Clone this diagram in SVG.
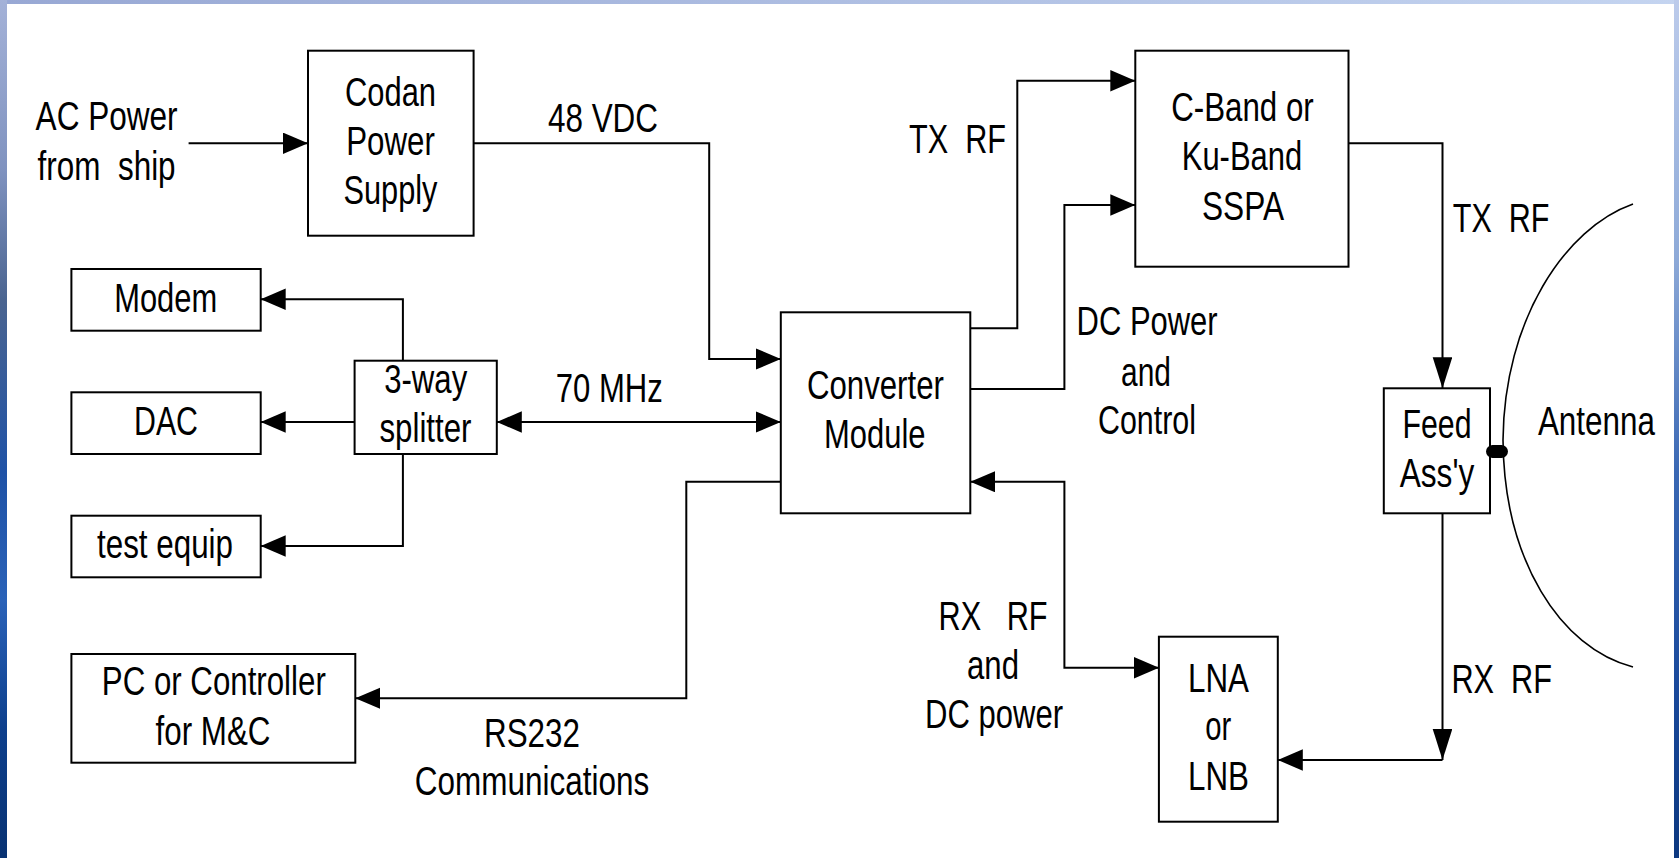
<svg xmlns="http://www.w3.org/2000/svg" width="1679" height="858" viewBox="0 0 1679 858">
<style>
.box{fill:#fff;stroke:#000;stroke-width:2}
.ln{fill:none;stroke:#000;stroke-width:2}
.t{font-family:"Liberation Sans Narrow","Liberation Sans",Arial,sans-serif;font-size:41px;fill:#000;white-space:pre}
.c{text-anchor:middle}
</style>
<defs>
<linearGradient id="lg" x1="0" y1="0" x2="0" y2="1">
<stop offset="0" stop-color="#a4b2d8"/>
<stop offset="0.2" stop-color="#7f92bf"/>
<stop offset="0.35" stop-color="#4a6490"/>
<stop offset="0.55" stop-color="#1f52a6"/>
<stop offset="0.7" stop-color="#2a62b8"/>
<stop offset="0.85" stop-color="#0d3f8c"/>
<stop offset="1" stop-color="#083272"/>
</linearGradient>
<linearGradient id="rg" x1="0" y1="0" x2="0" y2="1">
<stop offset="0" stop-color="#bccbeb"/>
<stop offset="0.3" stop-color="#8eaad8"/>
<stop offset="0.55" stop-color="#3a68b4"/>
<stop offset="0.8" stop-color="#1a4a9c"/>
<stop offset="1" stop-color="#0c3880"/>
</linearGradient>
<linearGradient id="tg" x1="0" y1="0" x2="1" y2="0">
<stop offset="0" stop-color="#98a8d4"/>
<stop offset="1" stop-color="#c4d4f0"/>
</linearGradient>
<marker id="ah" markerUnits="userSpaceOnUse" markerWidth="26" markerHeight="22" refX="25" refY="10.7" orient="auto-start-reverse">
<path d="M0,0 L25,10.7 L0,21.4 z" fill="#000"/>
</marker>
<marker id="av" markerUnits="userSpaceOnUse" markerWidth="32" markerHeight="20" refX="31" refY="9.8" orient="auto">
<path d="M0,0 L31,9.8 L0,19.6 z" fill="#000"/>
</marker>
</defs>
<rect x="0" y="0" width="1679" height="858" fill="#fff"/>
<rect x="0" y="0" width="1679" height="4" fill="url(#tg)"/>
<rect x="0" y="0" width="7" height="858" fill="url(#lg)"/>
<rect x="1674" y="0" width="5" height="858" fill="url(#rg)"/>

<g id="connectors">
<path class="ln" d="M188.6,143.3 H308" marker-end="url(#ah)"/>
<path class="ln" d="M473.6,143.3 H709.2 V359 H780.8" marker-end="url(#ah)"/>
<path class="ln" d="M496.8,422 H780.8" marker-start="url(#ah)" marker-end="url(#ah)"/>
<path class="ln" d="M402.9,360.7 V299.3 H260.7" marker-end="url(#ah)"/>
<path class="ln" d="M354.6,422 H260.7" marker-end="url(#ah)"/>
<path class="ln" d="M402.9,454 V546 H260.7" marker-end="url(#ah)"/>
<path class="ln" d="M780.8,481.7 H686.3 V698.3 H355.3" marker-end="url(#ah)"/>
<path class="ln" d="M970.3,328.3 H1017.3 V80.7 H1135.3" marker-end="url(#ah)"/>
<path class="ln" d="M970.3,389 H1064.4 V205 H1135.3" marker-end="url(#ah)"/>
<path class="ln" d="M970.3,481.7 H1064.4 V667.7 H1159" marker-start="url(#ah)" marker-end="url(#ah)"/>
<path class="ln" d="M1348.5,143.3 H1442.5 V388.3" marker-end="url(#av)"/>
<path class="ln" d="M1442.5,513.3 V760" marker-end="url(#av)"/>
<path class="ln" d="M1442.5,760 H1277.8" marker-end="url(#ah)"/>
</g>

<g id="ac-power-label">
<text class="t c" x="106.6" y="130" textLength="142" lengthAdjust="spacingAndGlyphs">AC Power</text>
<text class="t c" x="106.6" y="180" textLength="138" lengthAdjust="spacingAndGlyphs">from  ship</text>
</g>

<g id="codan">
<rect class="box" x="308" y="50.7" width="165.6" height="185"/>
<text class="t c" x="390.5" y="106" textLength="91" lengthAdjust="spacingAndGlyphs">Codan</text>
<text class="t c" x="390.5" y="155" textLength="88.6" lengthAdjust="spacingAndGlyphs">Power</text>
<text class="t c" x="390.5" y="203.5" textLength="94" lengthAdjust="spacingAndGlyphs">Supply</text>
</g>

<g id="modem">
<rect class="box" x="71.4" y="269" width="189.3" height="61.7"/>
<text class="t c" x="165.7" y="311.7" textLength="103" lengthAdjust="spacingAndGlyphs">Modem</text>
</g>

<g id="dac">
<rect class="box" x="71.4" y="392.3" width="189.3" height="61.7"/>
<text class="t c" x="166" y="435" textLength="64" lengthAdjust="spacingAndGlyphs">DAC</text>
</g>

<g id="test-equip">
<rect class="box" x="71.4" y="515.7" width="189.3" height="61.6"/>
<text class="t c" x="165" y="557.5" textLength="136" lengthAdjust="spacingAndGlyphs">test equip</text>
</g>

<g id="splitter">
<rect class="box" x="354.6" y="360.7" width="142.2" height="93.3"/>
<text class="t c" x="425.7" y="393" textLength="83" lengthAdjust="spacingAndGlyphs">3-way</text>
<text class="t c" x="425.5" y="441.7" textLength="92" lengthAdjust="spacingAndGlyphs">splitter</text>
</g>

<g id="pc">
<rect class="box" x="71.4" y="654" width="283.9" height="108.7"/>
<text class="t c" x="213.8" y="695" textLength="224" lengthAdjust="spacingAndGlyphs">PC or Controller</text>
<text class="t c" x="213" y="745" textLength="115" lengthAdjust="spacingAndGlyphs">for M&amp;C</text>
</g>

<g id="converter">
<rect class="box" x="780.8" y="312.3" width="189.5" height="201"/>
<text class="t c" x="875.4" y="399.3" textLength="137" lengthAdjust="spacingAndGlyphs">Converter</text>
<text class="t c" x="874.8" y="448.3" textLength="101.5" lengthAdjust="spacingAndGlyphs">Module</text>
</g>

<g id="sspa">
<rect class="box" x="1135.3" y="50.7" width="213.2" height="216"/>
<text class="t c" x="1242.5" y="120.7" textLength="142.5" lengthAdjust="spacingAndGlyphs">C-Band or</text>
<text class="t c" x="1242" y="170" textLength="120.5" lengthAdjust="spacingAndGlyphs">Ku-Band</text>
<text class="t c" x="1243" y="220" textLength="82" lengthAdjust="spacingAndGlyphs">SSPA</text>
</g>

<g id="feed">
<rect class="box" x="1383.8" y="388.3" width="106.2" height="125"/>
<text class="t c" x="1437" y="438.3" textLength="69" lengthAdjust="spacingAndGlyphs">Feed</text>
<text class="t c" x="1437" y="487.3" textLength="74.6" lengthAdjust="spacingAndGlyphs">Ass'y</text>
</g>

<g id="lna">
<rect class="box" x="1158.9" y="636.7" width="118.9" height="185"/>
<text class="t c" x="1218.5" y="691.7" textLength="61" lengthAdjust="spacingAndGlyphs">LNA</text>
<text class="t c" x="1218.3" y="740" textLength="26" lengthAdjust="spacingAndGlyphs">or</text>
<text class="t c" x="1218.5" y="790" textLength="61" lengthAdjust="spacingAndGlyphs">LNB</text>
</g>

<g id="antenna">
<path d="M1633,204 C1565,228 1504,320 1503,440 C1504,560 1560,648 1633,667" fill="none" stroke="#000" stroke-width="1.6"/>
<rect x="1486" y="445" width="22" height="13" rx="6.5" fill="#000"/>
<text class="t" x="1537.9" y="435" textLength="117" lengthAdjust="spacingAndGlyphs">Antenna</text>
</g>

<g id="labels">
<text class="t" x="548" y="131.7" textLength="110" lengthAdjust="spacingAndGlyphs">48 VDC</text>
<text class="t" x="555.8" y="401.7" textLength="107" lengthAdjust="spacingAndGlyphs">70 MHz</text>
<text class="t c" x="532" y="746.7" textLength="96" lengthAdjust="spacingAndGlyphs">RS232</text>
<text class="t c" x="532" y="795" textLength="234.5" lengthAdjust="spacingAndGlyphs">Communications</text>
<text class="t" x="909" y="153.3" textLength="97" lengthAdjust="spacingAndGlyphs">TX  RF</text>
<text class="t" x="1076.6" y="335" textLength="141" lengthAdjust="spacingAndGlyphs">DC Power</text>
<text class="t c" x="1146" y="386" textLength="50" lengthAdjust="spacingAndGlyphs">and</text>
<text class="t c" x="1147" y="434" textLength="98" lengthAdjust="spacingAndGlyphs">Control</text>
<text class="t" x="1452.8" y="231.7" textLength="96.6" lengthAdjust="spacingAndGlyphs">TX  RF</text>
<text class="t" x="938.5" y="630" textLength="109" lengthAdjust="spacingAndGlyphs">RX   RF</text>
<text class="t c" x="993" y="679.3" textLength="52" lengthAdjust="spacingAndGlyphs">and</text>
<text class="t c" x="994" y="727.7" textLength="138" lengthAdjust="spacingAndGlyphs">DC power</text>
<text class="t" x="1451.4" y="693.3" textLength="100.5" lengthAdjust="spacingAndGlyphs">RX  RF</text>
</g>
</svg>
